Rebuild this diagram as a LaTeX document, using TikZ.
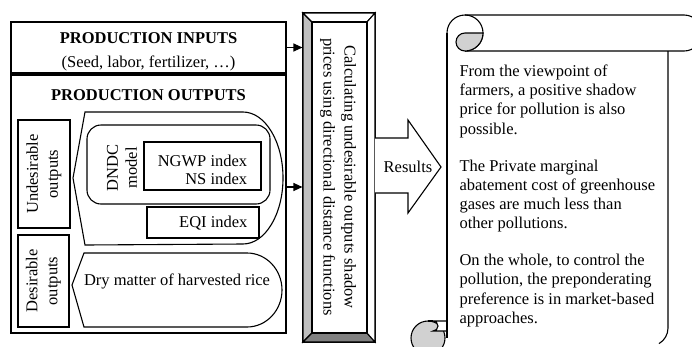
\documentclass[tikz,border=0pt]{standalone}
\usepackage{fontspec}
\setmainfont{Liberation Serif}
\usetikzlibrary{arrows.meta}
\begin{document}
\begin{tikzpicture}[x=1pt,y=-1pt,
  line width=1.1pt,
  txt/.style={font=\fontsize{16.5}{19.2}\selectfont, inner sep=0pt},
  box/.style={draw, rectangle, inner sep=0pt},
  arr/.style={-{Triangle[length=9pt,width=8pt]}},
  curl/.style={draw, fill=black!18},
]
\useasboundingbox (0,0) rectangle (692,346);

% ---------- production inputs
\node[box, minimum width=275pt, minimum height=51pt] (inputs) at (148.5,47.5) {};
\node[txt, align=center, font=\fontsize{16.5}{24}\selectfont] (inputsT) at (148.5,51.5)
  {\textbf{PRODUCTION INPUTS}\\(Seed, labor, fertilizer, …)};

% ---------- production outputs
\node[box, minimum width=275pt, minimum height=258pt] (outputs) at (148.5,204) {};
\node[txt, font=\fontsize{16.5}{19.2}\selectfont\bfseries] (outputsT) at (148.5,95) {PRODUCTION OUTPUTS};

\node[box, txt, rotate=90, minimum width=108pt, minimum height=52pt, align=center,
      font=\fontsize{16.5}{20}\selectfont] (undbox) at (44,174) {Undesirable\\outputs};
\node[box, txt, rotate=90, minimum width=92pt, minimum height=51pt, align=center,
      font=\fontsize{16.5}{20}\selectfont] (desbox) at (43.5,281) {Desirable\\outputs};

% undesirable display shape
\draw (85,112) -- (243,112) arc[start angle=-90, end angle=90, x radius=40, y radius=66]
      -- (85,245) -- (73,178) -- cycle;
% desirable display shape
\draw (84,253) -- (247,253) arc[start angle=-90, end angle=90, x radius=35, y radius=37]
      -- (84,327) -- (72,285) -- cycle;
\node[txt] (dry) at (177,281) {Dry matter of harvested rice};

% DNDC model
\node[draw, rounded corners=14pt, minimum width=183pt, minimum height=79pt, inner sep=0pt] (dndc) at (178.5,164.5) {};
\node[txt, rotate=90, align=center, font=\fontsize{16.5}{19}\selectfont] (dndcT) at (122,168) {DNDC\\model};
\node[box, minimum width=117pt, minimum height=48pt] (ngwp) at (202.5,166) {};
\node[txt, align=right, font=\fontsize{16.5}{18.5}\selectfont] (ngwpT) at (202.5,170) {NGWP index\\NS index};
\node[box, minimum width=112pt, minimum height=31pt] (eqi) at (203,222.5) {};
\node[txt, anchor=east] (eqiT) at (248,223) {EQI index};

% ---------- calculation (bevel) box
\node[box, minimum width=72pt, minimum height=329pt] (calc) at (339,177.5) {};
\draw[fill=black!25] (303,13) -- (312,22) -- (312,333) -- (303,342) -- cycle;
\draw[fill=black!50] (303,342) -- (312,333) -- (367,333) -- (375,342) -- cycle;
\draw[fill=white] (303,13) -- (375,13) -- (367,22) -- (312,22) -- cycle;
\draw[fill=white] (375,13) -- (375,342) -- (367,333) -- (367,22) -- cycle;
\draw (312,22) rectangle (367,333);
\node[txt, rotate=-90, align=center, font=\fontsize{16.5}{21}\selectfont] (calcT) at (338,177)
  {Calculating undesirable outputs shadow\\prices using directional distance functions};

% connectors
\coordinate (a2) at (286,187);
\draw[arr] (inputs.east) -- (calc.west |- inputs.east);
\draw[arr] (outputs.east |- a2) -- (calc.west |- a2);

% ---------- results block arrow
\draw[fill=white] (375,138) -- (408,138) -- (408,120) -- (441,167) -- (408,213) -- (408,193) -- (375,193);
\node[txt] (results) at (408,167) {Results};

% ---------- scroll
\draw (447,33) -- (447,338);
\draw (668,51) -- (668,328) arc[start angle=0, end angle=60, radius=18];
\draw (465,15) -- (684,15) arc[start angle=-90, end angle=90, radius=18] -- (465,51);
\draw (447,33) arc[start angle=180, end angle=450, radius=18];
\draw[curl] (483,33) arc[start angle=0, end angle=90, radius=18]
      arc[start angle=90, end angle=270, radius=9] -- cycle;
% bottom curl
\draw[curl] (428,338) circle[radius=17];
\draw[fill=white] (433,321) -- (447,321) -- (447,331) -- (433,331)
      arc[start angle=90, end angle=-90, radius=5];
\draw (428,321) -- (433,321);
\draw (447,321) -- (447,338);

\node[txt, anchor=north west, align=left] (scrollT) at (459,64.3)
  {From the viewpoint of\\
   farmers, a positive shadow\\
   price for pollution is also\\
   possible.\\[17.8pt]
   The Private marginal\\
   abatement cost of greenhouse\\
   gases are much less than\\
   other pollutions.\\[17.8pt]
   On the whole, to control the\\
   pollution, the preponderating\\
   preference is in market-based\\
   approaches.};
\end{tikzpicture}
\end{document}
